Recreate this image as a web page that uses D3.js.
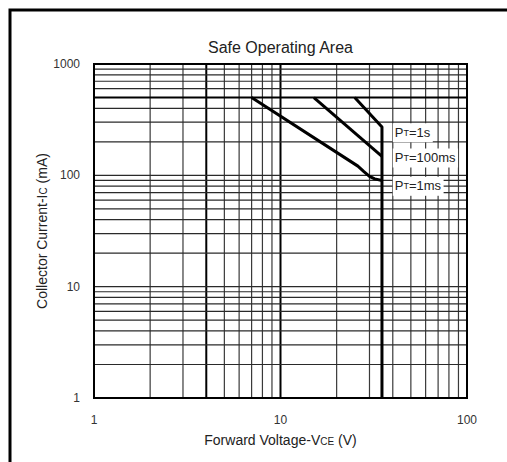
<!DOCTYPE html>
<html>
<head>
<meta charset="utf-8">
<script src="https://cdn.jsdelivr.net/npm/d3@7"></script>
<style>
  body { margin: 0; background: #fff; }
  text { font-family: "Liberation Sans", Arial, sans-serif; fill: #222; }
</style>
</head>
<body>
<script>
"use strict";

// axis ticks
const xTicks = [1, 10, 100];
const yTicks = [1, 10, 100, 1000];

// safe operating area curves (VCE in V, IC in mA)
const pt1sV = [25, 35, 35];
const pt1sI = [500, 272, 1];
const pt100msV = [15.1, 35];
const pt100msI = [500, 148];
const pt1msV = [7, 26, 28, 30, 32, 35];
const pt1msI = [500, 121, 108, 98, 93, 90];

// curve labels
const labelText = ["1s", "100ms", "1ms"];
const labelI = [236, 140, 78];

// grid lines drawn heavier in the scan
const heavyX = [4, 10];
const heavyY = [500];

const msm = {
    width: 507,
    height: 462,
    left: 94,
    right: 467,
    top: 64,
    bottom: 398
}

const svg = d3.select("body").append("svg")
    .attr("width", msm.width)
    .attr("height", msm.height)

const xScale = d3.scaleLog().domain([1, 100]).range([msm.left, msm.right])
const yScale = d3.scaleLog().domain([1, 1000]).range([msm.bottom, msm.top])

// outer frame: top and left edges only
svg.append("path")
    .attr("d", "M10,462V10H507")
    .attr("fill", "none")
    .attr("stroke", "#000")
    .attr("stroke-width", 3)

// minor grid values 1..9 per decade
const gridX = d3.range(1, 100).filter(v => v < 10 || v % 10 === 0)
const gridY = d3.range(1, 1000).filter(v => v < 10 || (v < 100 && v % 10 === 0) || v % 100 === 0)

svg.append("g").selectAll("line").data(gridX)
    .enter().append("line")
    .attr("x1", d => xScale(d)).attr("x2", d => xScale(d))
    .attr("y1", msm.top).attr("y2", msm.bottom)
    .attr("stroke", d => heavyX.includes(d) ? "#000" : "#3a3a3a")
    .attr("stroke-width", d => heavyX.includes(d) ? 2 : 1.2)

svg.append("g").selectAll("line").data(gridY)
    .enter().append("line")
    .attr("x1", msm.left).attr("x2", msm.right)
    .attr("y1", d => yScale(d)).attr("y2", d => yScale(d))
    .attr("stroke", d => heavyY.includes(d) ? "#000" : "#2a2a2a")
    .attr("stroke-width", d => heavyY.includes(d) ? 2 : 1.2)

// plot frame
svg.append("rect")
    .attr("x", msm.left).attr("y", msm.top)
    .attr("width", msm.right - msm.left)
    .attr("height", msm.bottom - msm.top)
    .attr("fill", "none")
    .attr("stroke", "#000")
    .attr("stroke-width", 2)

// curves
const line = d3.line()
    .x(d => xScale(d[0]))
    .y(d => yScale(d[1]))

const curves = [
    { v: pt1sV, i: pt1sI },
    { v: pt100msV, i: pt100msI },
    { v: pt1msV, i: pt1msI }
]
curves.forEach(c => {
    svg.append("path")
        .datum(c.v.map((v, k) => [v, c.i[k]]))
        .attr("d", line)
        .attr("fill", "none")
        .attr("stroke", "#000")
        .attr("stroke-width", 3)
        .attr("stroke-linejoin", "round")
})

// curve labels with white boxes
labelText.forEach((t, k) => {
    const g = svg.append("g")
    const txt = g.append("text")
        .attr("x", xScale(40) + 2)
        .attr("y", yScale(labelI[k]))
        .attr("dominant-baseline", "middle")
        .style("font-size", "13px")
    txt.append("tspan").text("P")
    txt.append("tspan").style("font-size", "9px").text("T")
    txt.append("tspan").text("=" + t)
    const bb = txt.node().getBBox()
    g.insert("rect", "text")
        .attr("x", bb.x - 2).attr("y", bb.y - 2)
        .attr("width", bb.width + 4).attr("height", bb.height + 4)
        .attr("fill", "#fff")
})

// tick labels
svg.append("g").selectAll("text").data(xTicks)
    .enter().append("text")
    .attr("x", d => xScale(d))
    .attr("y", 424)
    .attr("text-anchor", "middle")
    .style("font-size", "12px")
    .style("fill", "#333")
    .text(d => d)

svg.append("g").selectAll("text").data(yTicks)
    .enter().append("text")
    .attr("x", 80)
    .attr("y", d => yScale(d) + 4)
    .attr("text-anchor", "end")
    .style("font-size", "12px")
    .style("fill", "#333")
    .text(d => d)

// title and axis titles
svg.append("text")
    .attr("x", (msm.left + msm.right) / 2)
    .attr("y", 53)
    .attr("text-anchor", "middle")
    .style("font-size", "16px")
    .text("Safe Operating Area")

const xl = svg.append("text")
    .attr("x", (msm.left + msm.right) / 2)
    .attr("y", 445)
    .attr("text-anchor", "middle")
    .style("font-size", "14px")
xl.append("tspan").text("Forward Voltage-V")
xl.append("tspan").style("font-size", "10px").text("CE")
xl.append("tspan").text(" (V)")

const yl = svg.append("text")
    .attr("transform", "translate(47," + (msm.top + msm.bottom) / 2 + ") rotate(-90)")
    .attr("text-anchor", "middle")
    .style("font-size", "14px")
yl.append("tspan").text("Collector Current-I")
yl.append("tspan").style("font-size", "10px").text("C")
yl.append("tspan").text(" (mA)")
</script>
</body>
</html>
